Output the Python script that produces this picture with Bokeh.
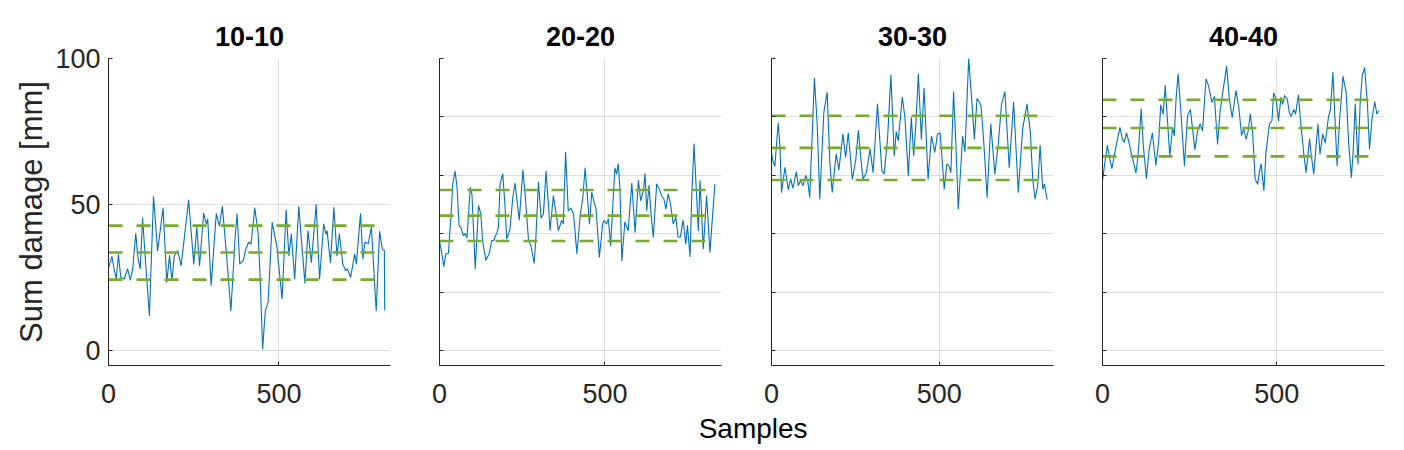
from bokeh.plotting import figure
from bokeh.layouts import row, column
from bokeh.models import Range1d, FixedTicker, Label
from bokeh.embed import file_html
from bokeh.resources import INLINE

titles = ["10-10", "20-20", "30-30", "40-40"]

samples_1 = [0, 10, 17, 23, 29, 36, 46, 56, 64, 71, 80, 86, 93, 100, 109, 120, 132, 144, 160, 171,
             179, 186, 193, 203, 213, 235, 250, 259, 267, 279, 287, 291, 301, 316, 325, 334, 346, 359, 372, 377,
             385, 395, 403, 411, 418, 429, 439, 445, 452, 460, 468, 480, 494, 509, 521, 529, 536, 546, 558, 566,
             576, 585, 595, 609, 619, 631, 638, 641, 651, 661, 670, 677, 687, 695, 700, 710, 722, 727, 739, 746,
             752, 762, 771, 785, 795, 803, 809, 810]
damage_1 = [28.3, 32.2, 27.6, 24.5, 32.9, 25.1, 24.5, 28.0, 24.2, 28.0, 40.2, 32.0, 28.0, 45.4, 29.7, 12.0, 52.7, 34.2, 48.8, 23.4,
            32.5, 24.0, 32.5, 34.2, 29.1, 51.5, 29.7, 42.2, 29.1, 47.0, 43.3, 45.0, 22.3, 46.8, 42.8, 49.3, 33.0, 13.7, 39.9, 46.8,
            29.7, 30.8, 34.8, 37.1, 36.5, 48.8, 39.9, 24.0, 0.6, 13.7, 16.5, 43.9, 35.4, 17.7, 48.1, 32.5, 39.9, 24.5, 49.3, 37.6,
            23.1, 41.0, 30.2, 50.0, 24.5, 43.3, 39.9, 41.0, 30.2, 49.0, 32.5, 39.9, 29.7, 27.4, 28.0, 25.1, 33.0, 29.7, 46.8, 31.4,
            37.1, 36.7, 42.2, 13.7, 40.8, 34.8, 34.2, 13.7]

samples_2 = [0, 7, 13, 19, 27, 35, 40, 47, 53, 59, 65, 72, 78, 83, 93, 98, 108, 118, 125, 130,
             140, 150, 158, 164, 168, 173, 178, 183, 191, 198, 203, 213, 221, 228, 241, 252, 259, 269, 276, 286,
             291, 299, 307, 314, 322, 329, 334, 344, 354, 359, 369, 374, 381, 389, 397, 405, 415, 425, 433, 440,
             447, 453, 460, 467, 473, 483, 493, 497, 505, 510, 517, 530, 535, 540, 545, 551, 560, 570, 581, 591,
             601, 608, 616, 621, 626, 633, 639, 646, 656, 664, 671, 678, 684, 691, 698, 706, 714, 721, 728, 736,
             744, 749, 757, 762, 769, 777, 782, 787, 797, 807, 817, 832]
damage_2 = [37.7, 33.1, 28.8, 33.1, 33.3, 46.8, 57.0, 61.4, 55.9, 42.8, 42.0, 39.4, 40.0, 38.6, 55.9, 53.6, 28.0, 49.6, 46.8, 37.7,
            31.0, 33.1, 37.7, 37.7, 39.0, 40.2, 42.2, 57.0, 60.5, 49.6, 38.2, 41.6, 51.9, 57.3, 44.7, 61.8, 53.0, 37.7, 36.0, 29.9,
            38.2, 57.6, 45.4, 46.8, 61.4, 50.2, 41.1, 53.0, 45.6, 41.1, 44.5, 43.4, 67.9, 47.9, 48.8, 46.8, 33.3, 46.0, 52.5, 62.5,
            52.5, 43.4, 54.2, 50.8, 48.5, 32.0, 43.4, 44.5, 43.4, 45.1, 36.0, 62.5, 60.5, 63.9, 55.9, 30.8, 44.0, 41.1, 57.3, 40.5,
            58.2, 51.3, 54.8, 60.5, 47.9, 56.5, 46.8, 38.8, 57.0, 55.3, 53.0, 51.9, 48.5, 53.6, 50.2, 43.4, 45.6, 38.8, 39.0, 44.7,
            36.5, 42.8, 32.2, 52.5, 70.7, 52.5, 41.1, 58.2, 34.8, 53.0, 33.7, 57.0]

samples_3 = [0, 4, 10, 20, 25, 30, 40, 50, 57, 64, 74, 80, 87, 94, 102, 108, 114, 128, 136, 144,
             156, 166, 174, 181, 193, 201, 213, 221, 229, 241, 251, 259, 266, 273, 283, 294, 303, 316, 329, 336,
             346, 356, 366, 372, 378, 390, 398, 408, 417, 424, 430, 438, 447, 455, 467, 477, 487, 495, 503, 508,
             515, 523, 529, 535, 543, 550, 557, 570, 577, 588, 597, 605, 613, 620, 625, 633, 643, 654, 666, 676,
             686, 696, 709, 722, 736, 749, 762, 772, 779, 786, 794, 801, 809, 814, 822]
damage_3 = [67.9, 65.0, 63.1, 77.9, 70.2, 54.2, 62.7, 55.1, 58.7, 55.6, 61.2, 56.5, 58.2, 56.5, 59.9, 58.2, 52.5, 93.2, 78.1, 51.9,
            81.5, 88.4, 64.5, 54.2, 67.3, 61.9, 74.1, 66.2, 74.5, 58.7, 65.0, 75.3, 66.2, 58.7, 61.0, 69.0, 61.0, 84.4, 61.6, 60.5,
            72.4, 94.3, 66.7, 74.9, 71.9, 86.7, 79.8, 59.9, 79.8, 66.7, 76.4, 94.7, 72.4, 89.8, 58.7, 73.4, 67.9, 74.1, 74.5, 66.7,
            55.3, 63.9, 63.3, 61.0, 88.6, 70.2, 48.5, 73.4, 68.1, 100.0, 86.1, 72.4, 86.3, 85.0, 83.8, 71.3, 52.5, 77.6, 60.5, 70.2,
            84.4, 88.6, 62.7, 85.0, 54.2, 75.9, 84.4, 74.7, 58.7, 51.9, 56.5, 70.2, 55.3, 57.0, 51.7]

samples_4 = [0, 7, 14, 21, 27, 33, 40, 50, 57, 62, 69, 76, 84, 88, 96, 102, 111, 117, 126, 134,
             143, 153, 161, 167, 174, 180, 187, 193, 201, 206, 211, 217, 225, 235, 244, 252, 258, 265, 273, 280,
             287, 297, 304, 314, 321, 330, 337, 345, 356, 364, 372, 383, 391, 399, 405, 412, 418, 424, 431, 438,
             445, 450, 455, 463, 469, 479, 486, 491, 498, 505, 512, 517, 522, 530, 536, 541, 549, 554, 562, 570,
             578, 584, 594, 599, 606, 618, 624, 632, 639, 648, 654, 661, 666, 673, 680, 690, 699, 706, 714, 719,
             725, 733, 739, 745, 752, 760, 766, 773, 781, 787, 792]
damage_4 = [58.2, 64.5, 70.2, 65.6, 62.4, 66.2, 70.7, 76.4, 72.4, 71.3, 74.5, 71.3, 66.7, 65.0, 60.8, 66.7, 82.7, 70.2, 59.0, 69.0,
            74.5, 63.5, 71.3, 84.1, 81.0, 90.7, 77.6, 66.7, 76.4, 73.6, 86.1, 94.7, 81.5, 63.3, 80.4, 82.5, 76.4, 68.8, 75.3, 77.6,
            75.3, 93.0, 90.7, 85.0, 87.0, 70.7, 81.5, 88.4, 97.3, 86.1, 79.8, 89.0, 83.3, 73.7, 76.0, 72.4, 75.3, 81.0, 74.1, 58.7,
            57.0, 61.0, 63.9, 54.8, 67.9, 77.6, 78.7, 88.2, 86.1, 78.7, 86.7, 84.4, 87.3, 86.1, 81.5, 80.2, 82.5, 81.0, 87.5, 76.4,
            66.7, 61.0, 72.4, 66.7, 60.5, 77.6, 67.3, 74.1, 71.1, 79.8, 82.7, 95.2, 81.5, 63.3, 78.7, 93.9, 88.4, 71.3, 59.3, 67.9,
            84.4, 63.9, 84.4, 94.1, 96.9, 84.4, 69.0, 79.3, 85.2, 81.0, 82.1]

# dashed reference levels (mean - std, mean, mean + std)
levels_1 = [24.3, 33.6, 42.8]
levels_2 = [37.5, 46.2, 55.0]
levels_3 = [58.4, 69.4, 80.4]
levels_4 = [66.5, 76.2, 85.9]

x_limits = [827, 852, 841, 809]
x_ticks = [0, 500]
y_ticks_first = [0, 50, 100]
y_ticks_other = [0, 20, 40, 60, 80, 100]

BLUE = "#0072BD"
GREEN = "#77AC30"
AX = "#262626"
FONT = "Liberation Sans"

series = [(samples_1, damage_1, levels_1), (samples_2, damage_2, levels_2),
          (samples_3, damage_3, levels_3), (samples_4, damage_4, levels_4)]
borders = [(108, 25), (24, 25), (25, 25), (24, 12)]
TOP, FW, FH, BOTTOM = 58, 282, 307, 45

panels = []
for i, (xs, ys, levels) in enumerate(series):
    left, right = borders[i]
    p = figure(frame_width=FW, frame_height=FH,
               x_range=Range1d(0, x_limits[i]), y_range=Range1d(-5.1, 100),
               output_backend="svg", toolbar_location=None,
               min_border_left=left, min_border_right=right,
               min_border_top=TOP, min_border_bottom=BOTTOM,
               title=titles[i])
    p.outline_line_color = None
    p.background_fill_color = "white"
    p.border_fill_color = "white"
    p.title.align = "center"
    p.title.text_font = FONT
    p.title.text_font_size = "27px"
    p.title.text_font_style = "bold"
    p.title.text_color = "#000000"
    p.title.standoff = 25

    xt = FixedTicker(ticks=x_ticks)
    yt = FixedTicker(ticks=y_ticks_first if i == 0 else y_ticks_other)
    p.xaxis.ticker = xt
    p.yaxis.ticker = yt
    p.xgrid.ticker = xt
    p.ygrid.ticker = yt
    for g in (p.xgrid, p.ygrid):
        g.grid_line_color = AX
        g.grid_line_alpha = 0.15
        g.grid_line_width = 1

    for ax in (p.xaxis, p.yaxis):
        ax.axis_line_color = AX
        ax.axis_line_width = 1
        ax.major_tick_line_color = AX
        ax.major_tick_in = 4
        ax.major_tick_out = 0
        ax.minor_tick_line_color = None
        ax.major_label_text_font = FONT
        ax.major_label_text_font_size = "27px"
        ax.major_label_text_color = AX
    p.xaxis.major_label_standoff = 18
    p.yaxis.major_label_standoff = 8
    if i == 0:
        p.yaxis.axis_label = "Sum damage [mm]"
        p.yaxis.axis_label_text_font = FONT
        p.yaxis.axis_label_text_font_size = "31px"
        p.yaxis.axis_label_text_font_style = "normal"
        p.yaxis.axis_label_text_color = AX
        p.yaxis.axis_label_standoff = 3
    else:
        p.yaxis.major_label_overrides = {t: "" for t in y_ticks_other}
        p.yaxis.major_label_standoff = 0

    p.line(xs, ys, line_color=BLUE, line_width=1.1, line_join="round")
    for lv in levels:
        p.line([xs[0], xs[-1]], [lv, lv], line_color=GREEN, line_width=2.6, line_dash="14 14")
    panels.append(p)

total_w = sum(b[0] + FW + b[1] for b in borders)
row_h = TOP + FH + BOTTOM
lab_h = 450 - row_h
lab = figure(width=total_w, height=lab_h, x_range=Range1d(0, total_w), y_range=Range1d(0, lab_h),
             output_backend="svg", toolbar_location=None, min_border=0, title=None,
             x_axis_location=None, y_axis_location=None)
lab.grid.visible = False
lab.outline_line_color = None
lab.background_fill_color = "white"
lab.border_fill_color = "white"
lab.add_layout(Label(x=752.6, y=22, text="Samples", text_align="center", text_baseline="alphabetic",
                     text_font=FONT, text_font_size="28px", text_color="#000000"))

layout = column(row(*panels), lab)
open("out.html", "w").write(file_html(layout, INLINE))
